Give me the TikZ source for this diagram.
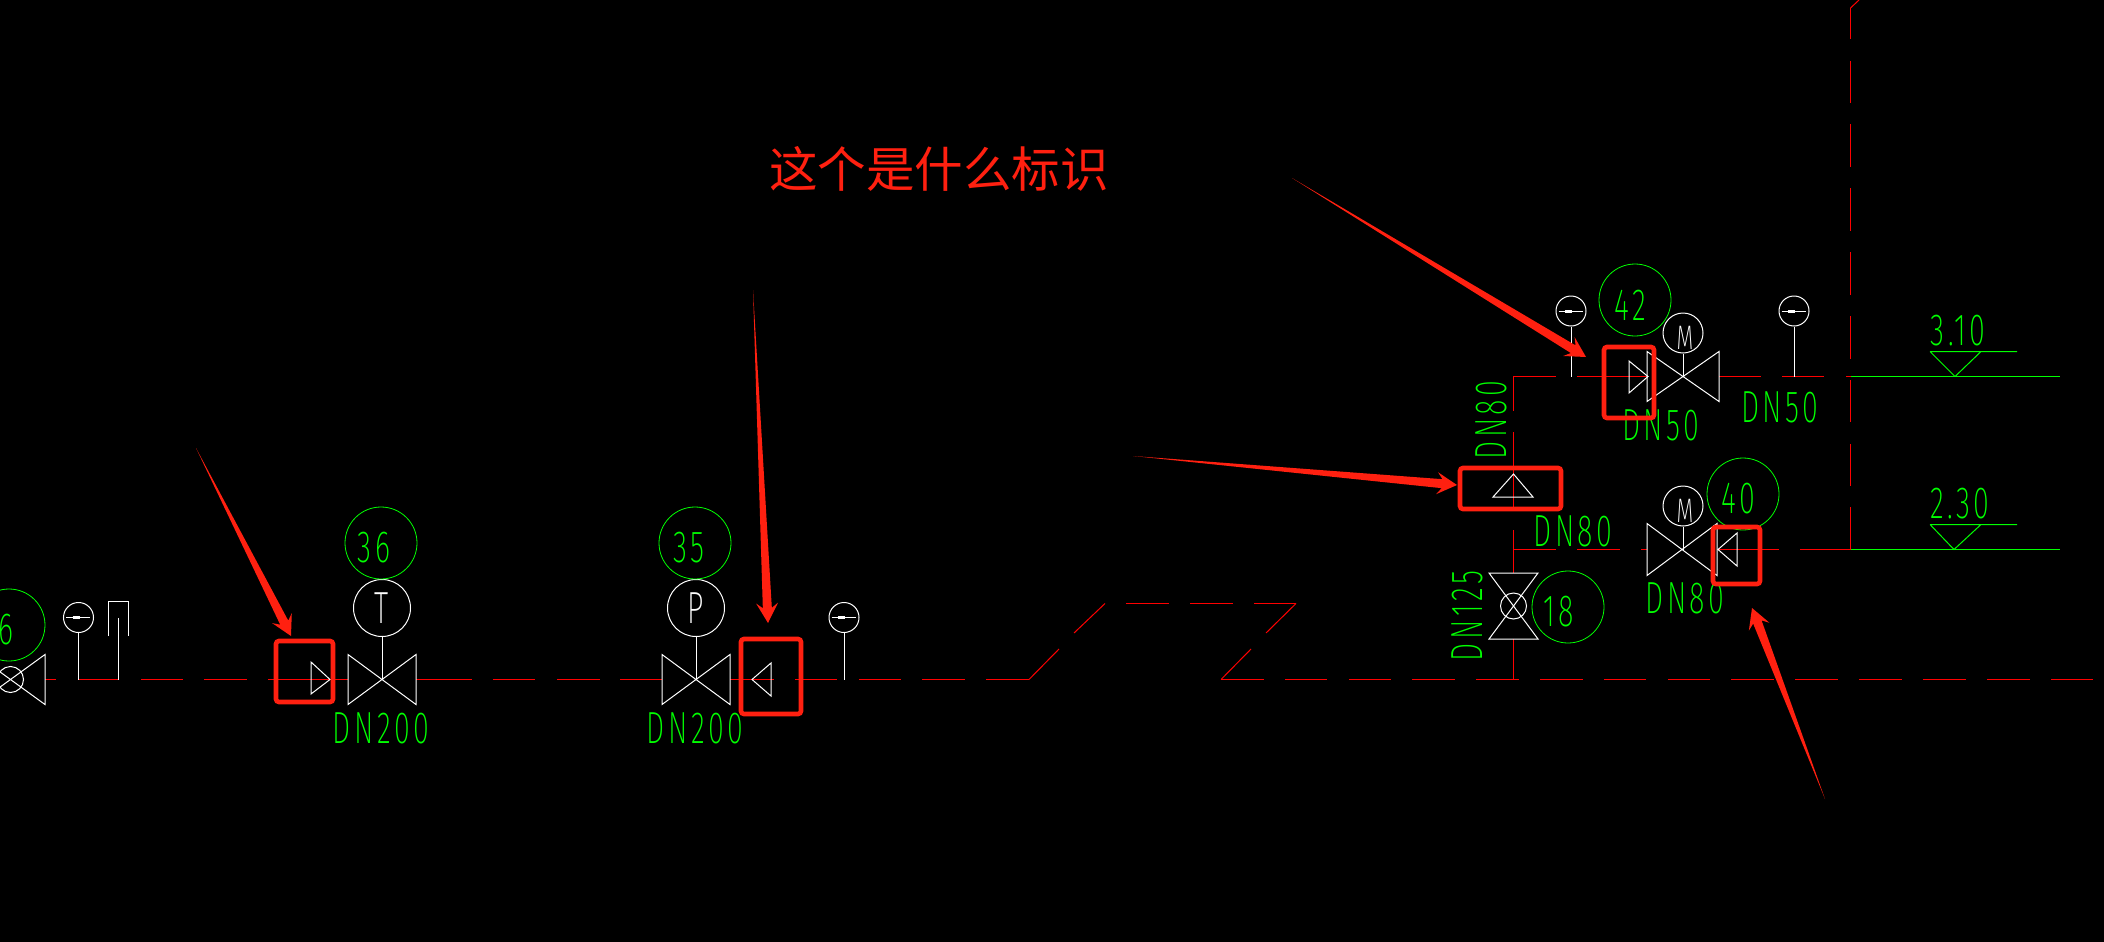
\documentclass[tikz,border=0pt]{standalone}
\usepackage{fontspec}
\usepackage{graphicx}
\usetikzlibrary{calc}
\newfontfamily\cjk{Noto Sans CJK SC}
\newfontfamily\cadfont[LetterSpace=12]{Fira Sans ExtraLight}
\definecolor{cadred}{RGB}{255,0,0}
\definecolor{cadgreen}{RGB}{0,255,0}
\definecolor{markred}{RGB}{255,32,16}
\newcommand{\cad}[1]{{\cadfont\scalebox{.64}[1]{#1}}}
\newcommand{\markarrow}[2]{
	\path (#1) coordinate (tl) (#2) coordinate (tp);
	\path ($(tp)!20pt!(tl)$) coordinate (hd) ($(tp)!15pt!(tl)$) coordinate (nk);
	\fill [markred] (tl) -- ($(nk)!4.5pt!90:(tl)$) -- ($(hd)!11pt!90:(tl)$) -- (tp) -- ($(hd)!11pt!-90:(tl)$) -- ($(nk)!4.5pt!-90:(tl)$) -- cycle;
}
\tikzset{
	pipe/.style={cadred,line width=1pt},
	sym/.style={white,line width=1pt},
	lvl/.style={cadgreen,line width=1pt},
	tag/.style={circle,draw=cadgreen,line width=.8pt,minimum size=72pt,inner sep=0pt},
	act/.style={circle,draw=white,line width=1pt,inner sep=0pt},
	cadtxt/.style={cadgreen,font=\fontsize{45}{45}\selectfont,inner sep=0pt},
	markbox/.style={markred,line width=4.6pt,rounded corners=3pt},
}

\begin{document}
\begin{tikzpicture}[x=1pt,y=-1pt]
\fill [black] (0,0) rectangle (2104,942);
\useasboundingbox (0,0) rectangle (2104,942);

% pipes
\foreach \a/\b in {45/56,78/119,141/183,204/247,268/348,416/472,493/535,557/600,620/662,730/774,795/837,859/901,922/965,986/1029,1221/1264,1285/1327,1349/1391,1412/1455,1476/1519,1540/1583,1604/1646,1668/1710,1731/1774,1795/1838,1859/1902,1923/1966,1987/2030,2051/2093}
	\draw [pipe] (\a,679.5) -- (\b,679.5);
\draw [pipe] (1029,679.5) -- (1059,649) (1074,633) -- (1105,603.5);
\foreach \a/\b in {1126/1169,1190/1233,1254/1296}
	\draw [pipe] (\a,603.5) -- (\b,603.5);
\draw [pipe] (1296,603.5) -- (1266,633) (1251,649) -- (1221,679.5);
\foreach \a/\b in {1513/1556,1577/1647,1719/1761,1782/1824,1846/1851}
	\draw [pipe] (\a,376.5) -- (\b,376.5);
\foreach \a/\b in {1513/1556,1577/1620,1641/1647,1717/1779,1800/1851}
	\draw [pipe] (\a,549.5) -- (\b,549.5);
\foreach \a/\b in {376/411,432/507,530/573,639/679.5}
	\draw [pipe] (1513.5,\a) -- (1513.5,\b);
\foreach \a/\b in {8/39,61/103,124/167,188/231,252/295,316/359,380/422,444/486,507/549.5}
	\draw [pipe] (1850.5,\a) -- (1850.5,\b);
\draw [pipe] (1850.5,8) -- (1859,0);

% levels
\draw [lvl] (1851,376.5) -- (2060,376.5);
\draw [lvl] (1851,549.5) -- (2060,549.5);
\draw [lvl] (1930,351.5) -- (2017,351.5) (1930,351.5) -- (1955,376.5) -- (1981,351.5);
\draw [lvl] (1930,524.5) -- (2017,524.5) (1930,524.5) -- (1954,549.5) -- (1981,524.5);
\node [cadtxt] (h1) at (1958,331) {\cad{3.10}};
\node [cadtxt] (h2) at (1960,504) {\cad{2.30}};

% valves
\foreach \x/\y/\w/\h in {382/679.5/34/25,696/679.5/34/25,1683/376.5/36/25,1682/549.5/35/26,10.5/679.5/34.5/25}
	\draw [sym,shift={(\x,\y)}] (-\w,-\h) -- (\w,\h) -- (\w,-\h) -- (-\w,\h) -- cycle;
\draw [sym,shift={(1513.5,606)}] (-24.5,-33) -- (24.5,33) -- (-24.5,33) -- (24.5,-33) -- cycle;
\node [act,minimum size=26pt] (b1) at (10.5,679.5) {};
\node [act,minimum size=26pt] (b2) at (1513.5,606) {};

% actuators
\node [act,minimum size=57pt] (t) at (382,608) {};
\node [act,minimum size=57pt] (p) at (696,608) {};
\node [act,minimum size=40pt] (m1) at (1683,333) {};
\node [act,minimum size=40pt] (m2) at (1683,506) {};
\coordinate (v1) at (382,679.5);
\coordinate (v2) at (696,679.5);
\coordinate (v3) at (1683,376.5);
\coordinate (v4) at (1683,549.5);
\draw [sym] (t.south) -- (v1);
\draw [sym] (p.south) -- (v2);
\draw [sym] (m1.south) -- (v3);
\draw [sym] (m2.south) -- (v4);
\node [white,font=\fontsize{45}{45}\selectfont,inner sep=0pt] (tx) at (382,608) {\cad{T}};
\node [white,font=\fontsize{45}{45}\selectfont,inner sep=0pt] (px) at (696,608) {\cad{P}};
\node [white,font=\fontsize{34}{34}\selectfont,inner sep=0pt] (mx1) at (1685,338) {\cad{M}};
\node [white,font=\fontsize{34}{34}\selectfont,inner sep=0pt] (mx2) at (1685,511) {\cad{M}};

% gauges
\foreach \n/\x/\y/\b in {1/78.5/617.5/679.5,2/844/617.5/679.5,3/1571/311/376.5,4/1794/311/376.5}{
	\node [act,minimum size=30pt] (g\n) at (\x,\y) {};
	\coordinate (s\n) at (\x,\b);
	\draw [sym] (g\n.south) -- (s\n);
	\draw [sym] (g\n.west) ++(3,0) -- ++(24,0);
	\draw [white,line width=3pt] (g\n.center) ++(-6,0) -- ++(7,0);
}

% loop
\draw [sym] (108.5,636) -- (108.5,601.5) -- (128.5,601.5) -- (128.5,636);
\draw [sym] (118.5,618) -- (118.5,679.5);

% check marks
\draw [sym] (311,662) -- (330,679.5) -- (311,694) -- cycle;
\draw [sym] (771,663) -- (752,679.5) -- (771,696) -- cycle;
\draw [sym] (1629,361) -- (1648,376.5) -- (1629,393) -- cycle;
\draw [sym] (1513.5,474) -- (1533,497) -- (1493,497) -- cycle;
\draw [sym] (1737,533) -- (1718,549.5) -- (1737,566) -- cycle;

% tags
\node [tag] (c6) at (9,625) {};
\node [tag] (c36) at (381,543) {};
\node [tag] (c35) at (695,543) {};
\node [tag] (c42) at (1635,300) {};
\node [tag] (c40) at (1743,494) {};
\node [tag] (c18) at (1568,607) {};
\node [cadtxt] (n6) at (6,630) {\cad{6}};
\node [cadtxt] (n36) at (374,548) {\cad{36}};
\node [cadtxt] (n35) at (689,548) {\cad{35}};
\node [cadtxt] (n42) at (1630,305) {\cad{42}};
\node [cadtxt] (n40) at (1738,499) {\cad{40}};
\node [cadtxt] (n18) at (1559,612) {\cad{18}};

% sizes
\node [cadtxt] (d1) at (381,728) {\cad{DN200}};
\node [cadtxt] (d2) at (695,728) {\cad{DN200}};
\node [cadtxt] (d3) at (1661,425) {\cad{DN50}};
\node [cadtxt] (d4) at (1780,407) {\cad{DN50}};
\node [cadtxt] (d5) at (1573,531) {\cad{DN80}};
\node [cadtxt] (d6) at (1685,598) {\cad{DN80}};
\node [cadtxt,rotate=90] (d7) at (1491,420) {\cad{DN80}};
\node [cadtxt,rotate=90] (d8) at (1467,616) {\cad{DN125}};

% marks
\draw [markbox] (276,641) rectangle (333,702);
\draw [markbox] (741,639) rectangle (801,714);
\draw [markbox] (1604,347) rectangle (1654,418);
\draw [markbox] (1460,468) rectangle (1561,509);
\draw [markbox] (1713,527) rectangle (1760,584);
\markarrow{196,448}{291,636}
\markarrow{753,290}{768,623}
\markarrow{1133,456}{1457,485}
\markarrow{1292,178}{1586,357}
\markarrow{1825,799}{1752,608}
\node [markred,font=\cjk\fontsize{48.5}{48.5}\selectfont,inner sep=0pt] (q) at (939,169) {这个是什么标识};
\end{tikzpicture}
\end{document}
